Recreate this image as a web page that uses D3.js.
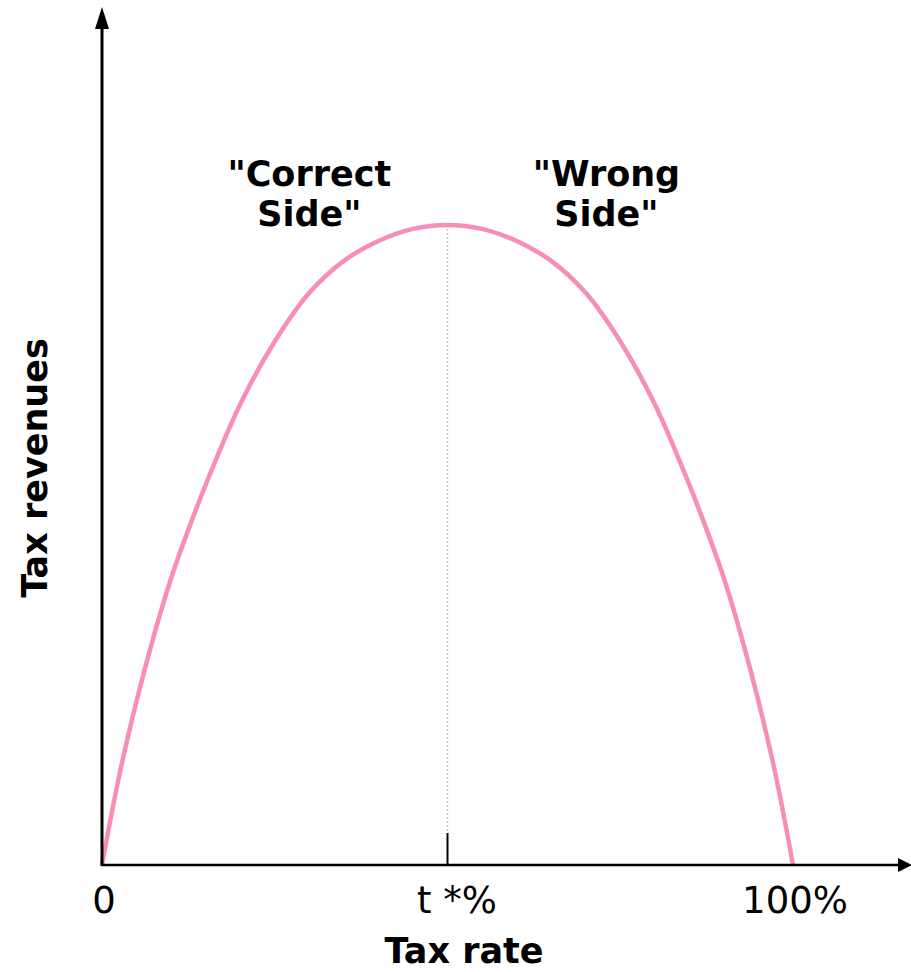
<!DOCTYPE html>
<html>
<head>
<meta charset="utf-8">
<script src="https://cdn.jsdelivr.net/npm/d3@7"></script>
<style>
  html, body { margin: 0; padding: 0; background: #fff; }
  svg { display: block; }
  text { font-family: "DejaVu Sans", Verdana, sans-serif; fill: #000; }
</style>
</head>
<body>
<svg id="chart" width="911" height="972"></svg>
<script>
// Tax rate (%) and tax revenue (% of peak)
const taxRate = [0, 2.5, 5, 7.5, 10, 12.5, 15, 20, 25, 30, 35, 40, 45, 50, 55, 60, 65, 70, 75, 80, 85, 87.5, 90, 92.5, 95, 97.5, 100];
const revenue = [0, 14.0, 25.6, 35.8, 44.8, 52.4, 59.4, 72.0, 81.8, 89.4, 94.4, 97.5, 99.4, 100, 99.4, 97.5, 94.4, 89.4, 81.8, 72.0, 59.4, 52.4, 44.8, 35.8, 25.6, 14.0, 0];
const peakRate = 50;
const xTickValues = [0, peakRate, 100];
const xTickLabels = ["0", "t *%", "100%"];
const annotations = [
  { rate: 30, lines: ["\"Correct", "Side\""] },
  { rate: 73, lines: ["\"Wrong", "Side\""] }
];

const svg = d3.select("#chart");
const x = d3.scaleLinear().domain([0, 100]).range([102, 793]);
const y = d3.scaleLinear().domain([0, 100]).range([865, 225]);

const data = taxRate.map((t, i) => ({ t, r: revenue[i] }));

// dotted guide line at peak
svg.append("line")
  .attr("x1", x(peakRate)).attr("x2", x(peakRate))
  .attr("y1", y(100)).attr("y2", 833)
  .attr("stroke", "#c8c8c8").attr("stroke-width", 1.5)
  .attr("stroke-dasharray", "2,2");

// curve
svg.append("path")
  .datum(data)
  .attr("fill", "none")
  .attr("stroke", "#f78db8")
  .attr("stroke-width", 4.5)
  .attr("d", d3.line().x(d => x(d.t)).y(d => y(d.r)).curve(d3.curveCatmullRom.alpha(0.5)));

// axes
const x0 = x(0), y0 = y(0);
svg.append("line").attr("x1", x0).attr("x2", x0).attr("y1", y0 + 1).attr("y2", 25)
  .attr("stroke", "#000").attr("stroke-width", 3);
svg.append("path").attr("d", `M${x0},7 L${x0 - 7},29 L${x0 + 7},29 Z`).attr("fill", "#000");

svg.append("line").attr("x1", x0 - 1).attr("x2", 898).attr("y1", y0).attr("y2", y0)
  .attr("stroke", "#000").attr("stroke-width", 2.5);
svg.append("path").attr("d", `M912,${y0} L898,${y0 - 7} L898,${y0 + 7} Z`).attr("fill", "#000");

// peak tick
svg.append("line").attr("x1", x(peakRate)).attr("x2", x(peakRate)).attr("y1", 833).attr("y2", y0)
  .attr("stroke", "#000").attr("stroke-width", 2);

// tick labels
svg.selectAll("text.tick").data(xTickValues).enter().append("text")
  .attr("class", "tick")
  .attr("x", d => x(d))
  .attr("dx", (d, i) => i === 1 ? 9.5 : 2)
  .attr("y", 913)
  .attr("text-anchor", "middle")
  .style("font-size", "37px")
  .text((d, i) => xTickLabels[i]);

// axis titles
svg.append("text")
  .attr("x", 464).attr("y", 963)
  .attr("text-anchor", "middle")
  .style("font-size", "35px").style("font-weight", "bold")
  .text("Tax rate");

svg.append("text")
  .attr("transform", "translate(47,468) rotate(-90)")
  .attr("text-anchor", "middle")
  .style("font-size", "35px").style("font-weight", "bold")
  .text("Tax revenues");

// annotations
annotations.forEach(a => {
  const t = svg.append("text")
    .attr("text-anchor", "middle")
    .style("font-size", "35px").style("font-weight", "bold");
  a.lines.forEach((ln, i) => {
    t.append("tspan").attr("x", x(a.rate)).attr("y", 186 + i * 40).text(ln);
  });
});
</script>
</body>
</html>
